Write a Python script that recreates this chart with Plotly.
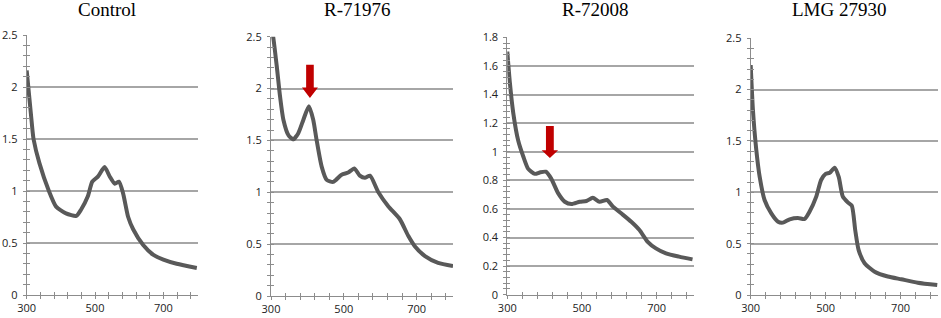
import plotly.graph_objects as go

W, H = 941, 318

titles = ["Control", "R-71976", "R-72008", "LMG 27930"]

ctrl_nm = [300, 317, 320, 337, 365, 386, 415, 445, 459, 479, 492, 509, 528, 543, 558, 570, 582, 597, 612, 641, 671, 700, 739, 798]
ctrl_ab = [2.16, 1.58, 1.50, 1.27, 1.00, 0.85, 0.785, 0.76, 0.82, 0.95, 1.09, 1.14, 1.23, 1.14, 1.07, 1.09, 0.98, 0.75, 0.63, 0.48, 0.385, 0.34, 0.30, 0.26]

r71_nm = [300, 306, 316, 325, 334, 348, 361, 375, 389, 404, 416, 425, 439, 453, 471, 494, 512, 529, 544, 558, 572, 595, 622, 654, 677, 695, 723, 759, 800]
r71_ab = [2.62, 2.50, 2.21, 1.92, 1.70, 1.55, 1.51, 1.57, 1.70, 1.83, 1.70, 1.51, 1.25, 1.12, 1.10, 1.17, 1.19, 1.23, 1.16, 1.14, 1.16, 1.00, 0.865, 0.74, 0.58, 0.48, 0.385, 0.32, 0.29]

r72_nm = [300, 307, 316, 329, 343, 356, 374, 387, 403, 418, 436, 454, 472, 494, 512, 529, 547, 567, 583, 605, 632, 654, 676, 698, 725, 760, 796]
r72_ab = [1.70, 1.48, 1.27, 1.08, 0.965, 0.88, 0.845, 0.855, 0.86, 0.81, 0.71, 0.65, 0.634, 0.65, 0.655, 0.678, 0.65, 0.662, 0.616, 0.569, 0.51, 0.452, 0.37, 0.324, 0.289, 0.266, 0.247]

lmg_nm = [300, 306, 315, 324, 337, 355, 373, 386, 404, 426, 444, 457, 475, 488, 500, 511, 524, 535, 546, 560, 570, 579, 588, 604, 631, 666, 702, 746, 798]
lmg_ab = [2.24, 1.80, 1.41, 1.15, 0.925, 0.795, 0.714, 0.705, 0.737, 0.75, 0.74, 0.81, 0.958, 1.12, 1.18, 1.19, 1.24, 1.15, 0.958, 0.90, 0.87, 0.633, 0.44, 0.31, 0.227, 0.18, 0.153, 0.12, 0.097]

series_nm = [ctrl_nm, r71_nm, r72_nm, lmg_nm]
series_ab = [ctrl_ab, r71_ab, r72_ab, lmg_ab]

y_max = [2.5, 2.5, 1.8, 2.5]
y_major = [0.5, 0.5, 0.2, 0.5]
y_minor = [0.1, 0.1, 0.04, 0.1]
x_range = [300, 800]
x_major = 200
x_minor = 40

# Arrows: panel index, wavelength, tail / neck / tip absorbance
arrow_panel = [1, 2]
arrow_nm = [407, 414]
arrow_tail = [2.23, 1.18]
arrow_neck = [2.01, 1.01]
arrow_tip = [1.91, 0.956]

# Plot-area pixel boxes (left, right, top, bottom)
boxes = [(26.7, 197.5, 35.0, 295.0),
         (271.0, 453.0, 36.7, 296.0),
         (507.3, 694.0, 37.3, 294.7),
         (750.7, 938.0, 38.3, 295.0)]

fig = go.Figure()
layout = dict(width=W, height=H, margin=dict(l=0, r=0, t=0, b=0),
              paper_bgcolor="white", plot_bgcolor="white", showlegend=False)

grid_col = "#a6a6a6"
axis_col = "#8c8c8c"
tick_font = dict(family="Open Sans, DejaVu Sans, sans-serif", size=11, color="#222222")

annotations = []
shapes = []

for i in range(4):
    l, r, t, b = boxes[i]
    xd = [l / W, r / W]
    yd = [1 - b / H, 1 - t / H]
    n = i + 1
    n2 = i + 5
    xs = "" if n == 1 else str(n)
    xs2 = str(n2)
    fig.add_trace(go.Scatter(x=series_nm[i], y=series_ab[i], mode="lines",
                             line=dict(color="#595959", width=4, shape="spline", smoothing=0.6),
                             xaxis="x" + xs, yaxis="y" + xs, hoverinfo="skip"))
    fig.add_trace(go.Scatter(x=[None], y=[None], mode="lines",
                             xaxis="x" + xs2, yaxis="y" + xs2, hoverinfo="skip"))
    layout["xaxis" + xs] = dict(domain=xd, range=x_range, anchor="y" + xs, tickmode="linear",
                                tick0=300, dtick=x_major, ticks="outside", ticklen=3,
                                tickcolor=axis_col, showgrid=False, zeroline=False,
                                showline=True, linecolor=axis_col, linewidth=1,
                                tickfont=tick_font, automargin=False, ticklabelstandoff=0,
                                minor=dict(tick0=300, dtick=x_minor, ticks="outside", ticklen=3,
                                           tickcolor=axis_col, showgrid=False))
    layout["yaxis" + xs] = dict(domain=yd, range=[0, y_max[i]], anchor="x" + xs, tickmode="linear",
                                tick0=0, dtick=y_major[i], ticks="outside", ticklen=3,
                                tickcolor=axis_col, showgrid=True, gridcolor=grid_col, gridwidth=1.5,
                                zeroline=False, showline=True, linecolor=axis_col, linewidth=1,
                                tickfont=tick_font, automargin=False, ticklabelstandoff=3,
                                minor=dict(tick0=0, dtick=y_minor[i], ticks="outside", ticklen=3,
                                           tickcolor=axis_col, showgrid=False))
    layout["xaxis" + xs2] = dict(domain=xd, range=x_range, anchor="y" + xs2, overlaying="x" + xs,
                                 tickmode="linear", tick0=300, dtick=x_major, ticks="inside", ticklen=3,
                                 tickcolor=axis_col, showticklabels=False, showgrid=False,
                                 zeroline=False, showline=False,
                                 minor=dict(tick0=300, dtick=x_minor, ticks="inside", ticklen=3,
                                            tickcolor=axis_col, showgrid=False))
    layout["yaxis" + xs2] = dict(domain=yd, range=[0, y_max[i]], anchor="x" + xs2, overlaying="y" + xs,
                                 tickmode="linear", tick0=0, dtick=y_major[i], ticks="inside", ticklen=3,
                                 tickcolor=axis_col, showticklabels=False, showgrid=False,
                                 zeroline=False, showline=False,
                                 minor=dict(tick0=0, dtick=y_minor[i], ticks="inside", ticklen=3,
                                            tickcolor=axis_col, showgrid=False))
    annotations.append(dict(text=titles[i], xref="paper", yref="paper",
                            x=((l + r) / 2 - 5) / W, y=1 - 10 / H, xanchor="center", yanchor="middle",
                            showarrow=False,
                            font=dict(family="Liberation Serif, Times New Roman, serif", size=19,
                                      color="#000000")))

shaft_half = 10.5
head_half = 22
for k in range(len(arrow_panel)):
    n = arrow_panel[k] + 1
    xs = "" if n == 1 else str(n)
    xc = arrow_nm[k]
    pts = [(xc - shaft_half, arrow_tail[k]), (xc + shaft_half, arrow_tail[k]),
           (xc + shaft_half, arrow_neck[k]), (xc + head_half, arrow_neck[k]),
           (xc, arrow_tip[k]), (xc - head_half, arrow_neck[k]),
           (xc - shaft_half, arrow_neck[k])]
    path = "M " + " L ".join(f"{px},{py}" for px, py in pts) + " Z"
    shapes.append(dict(type="path", path=path, xref="x" + xs, yref="y" + xs,
                       fillcolor="#c00000", line=dict(width=0), layer="above"))

layout["annotations"] = annotations
layout["shapes"] = shapes
fig.update_layout(**layout)
fig.write_html("out.html", config={"displayModeBar": False},
               post_script="document.body.style.margin='0px';document.body.style.overflow='hidden';")
